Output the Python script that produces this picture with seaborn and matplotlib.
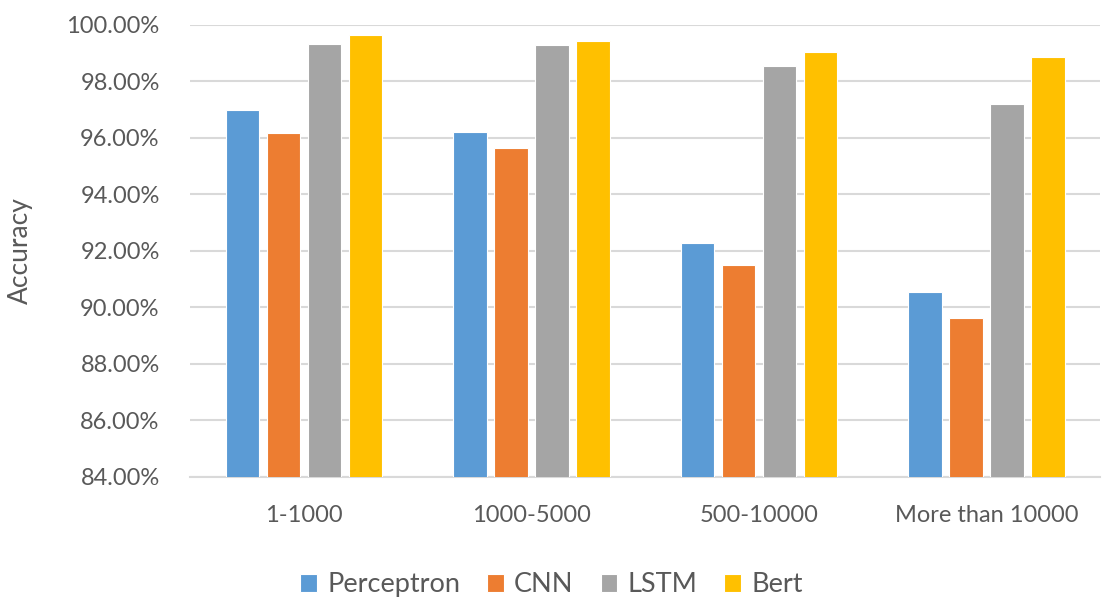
import pandas as pd
import seaborn as sns
import matplotlib.pyplot as plt
from matplotlib.ticker import PercentFormatter

# Dados
groups = ["1-1000", "1000-5000", "500-10000", "More than 10000"]
models = ["Perceptron", "CNN", "LSTM", "Bert"]
perceptron = [97.00, 96.19, 92.27, 90.56]
cnn = [96.17, 95.64, 91.49, 89.64]
lstm = [99.32, 99.30, 98.55, 97.20]
bert = [99.63, 99.44, 99.03, 98.85]
colors = ["#5B9BD5", "#ED7D31", "#A5A5A5", "#FFC000"]

rows = []
for model, vals in zip(models, [perceptron, cnn, lstm, bert]):
    for g, v in zip(groups, vals):
        rows.append({"group": g, "model": model, "acc": v})
df = pd.DataFrame(rows)

sns.set_style("white")
plt.rcParams['font.family'] = ['Lato', 'DejaVu Sans']

fig = plt.figure(figsize=(11.06, 6.03), dpi=100)
ax = fig.add_axes([0.172, 0.209, 0.823, 0.75])

sns.barplot(data=df, x="group", y="acc", hue="model", order=groups, hue_order=models,
            palette=colors, saturation=1, width=0.72, gap=0.18, edgecolor="white",
            linewidth=0.8, ax=ax, zorder=3)

ax.set_ylim(84, 100)
ax.set_yticks(range(84, 101, 2))
ax.yaxis.set_major_formatter(PercentFormatter(decimals=2))
ax.grid(axis="y", color="#d9d9d9", linewidth=1.5, zorder=0)
ax.set_axisbelow(True)
for s in ["top", "right", "left"]:
    ax.spines[s].set_visible(False)
ax.spines["bottom"].set_color("#d9d9d9")
ax.spines["bottom"].set_linewidth(1.5)
ax.tick_params(axis="both", length=0, labelsize=17, labelcolor="#595959")
ax.tick_params(axis="x", pad=20)
ax.tick_params(axis="y", pad=22)
ax.set_xlabel("")
ax.set_ylabel("Accuracy", fontsize=19, color="#595959", labelpad=24)

ax.legend(loc="upper center", bbox_to_anchor=(0.397, -0.157), ncol=4, frameon=False,
          fontsize=19.5, labelcolor="#595959", handlelength=0.62, handleheight=0.62,
          handletextpad=0.37, columnspacing=1.0)

plt.savefig("out.png", dpi=100)
